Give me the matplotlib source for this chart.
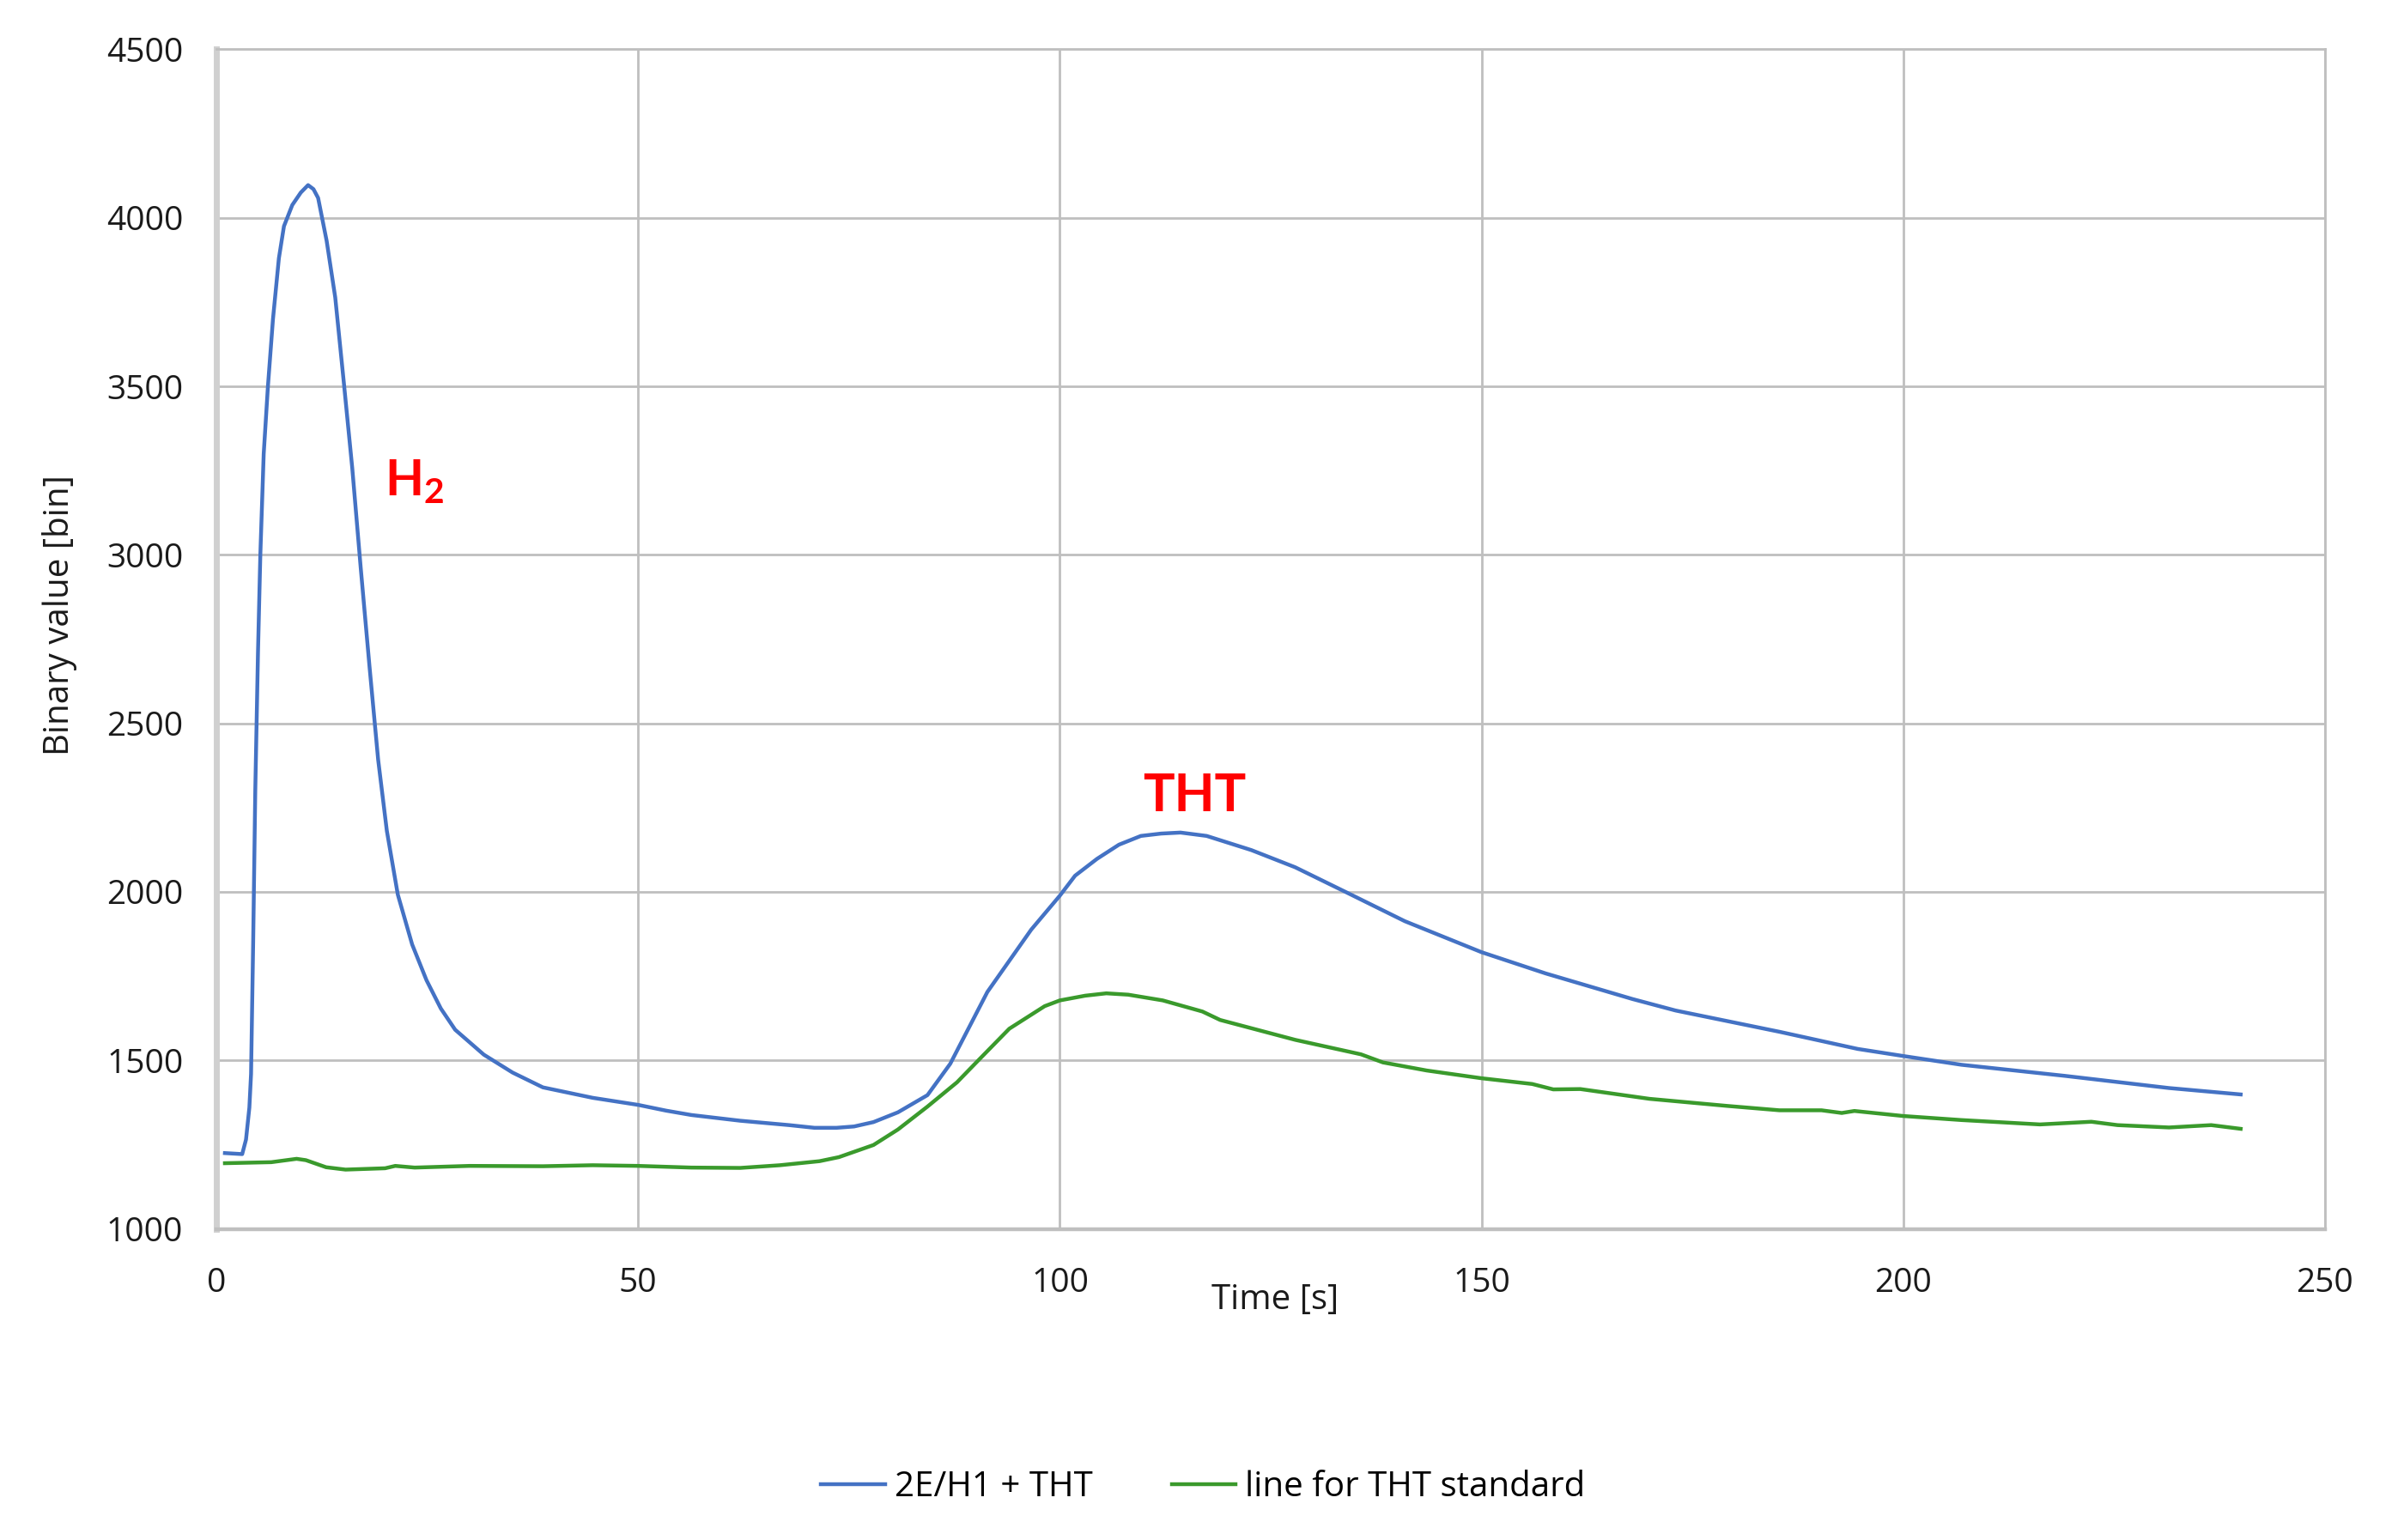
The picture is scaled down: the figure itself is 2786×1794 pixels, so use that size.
import matplotlib
matplotlib.use('Agg')
import matplotlib.pyplot as plt
import numpy as np

plt.rcParams['font.family'] = ['Open Sans', 'DejaVu Sans']
plt.rcParams['mathtext.fontset'] = 'custom'
plt.rcParams['mathtext.bf'] = 'Lato:bold'
plt.rcParams['mathtext.rm'] = 'Lato'

# values
t_sample = [1, 3.05, 3.5, 3.9, 4.1, 4.35, 4.6, 4.92, 5.2, 5.6, 6.1, 6.7, 7.4, 8.0,
            8.99, 10.0, 10.86, 11.5, 12.05, 13.06, 14.08, 15.1, 16.1, 17.1, 18.15,
            19.17, 20.2, 21.5, 23.2, 24.9, 26.6, 28.3, 31.7, 35.1, 38.7, 44.6, 50,
            53.3, 56.3, 62.1, 67.9, 70.9, 73.5, 75.6, 77.9, 80.8, 84.3, 87, 91.4,
            96.6, 100, 101.8, 104.4, 107, 109.6, 112, 114.3, 117.4, 122.7, 127.9,
            134.1, 140.9, 150, 157.6, 167.9, 173, 185.3, 194.6, 200, 206.9, 219.2,
            231.5, 240]
bin_sample = [1225, 1222, 1265, 1360, 1460, 1850, 2300, 2709, 3000, 3300, 3500, 3700,
              3880, 3975, 4038, 4075, 4097, 4085, 4059, 3932, 3764, 3511, 3257, 2962,
              2667, 2392, 2181, 1992, 1844, 1738, 1654, 1591, 1517, 1464, 1420, 1389,
              1368, 1351, 1338, 1321, 1308, 1300, 1300, 1304, 1317, 1346, 1397, 1490,
              1703, 1888, 1989, 2048, 2098, 2140, 2166, 2173, 2176, 2166, 2124, 2073,
              1997, 1913, 1821, 1758, 1682, 1648, 1585, 1534, 1513, 1487, 1454,
              1418, 1399]

t_std = [1, 6.5, 9.5, 10.6, 13, 15.3, 20, 21.2, 23.5, 30, 38.7, 44.6, 50, 56.3, 62.1,
         66.8, 71.5, 73.8, 77.9, 80.8, 84.3, 87.8, 90.4, 94, 98.2, 100, 103, 105.5,
         108.1, 112.2, 116.9, 119, 127.9, 135.7, 138.3, 143.5, 150, 156, 158.5, 161.7,
         169.9, 179.1, 185.3, 190.3, 192.7, 194.2, 200, 206.9, 216.2, 222.3, 225.4,
         231.5, 236.5, 240]
bin_std = [1195, 1198, 1208, 1204, 1183, 1176, 1180, 1187, 1182, 1187, 1186, 1189,
           1187, 1182, 1181, 1189, 1201, 1213, 1249, 1295, 1363, 1435, 1502, 1594,
           1661, 1678, 1692, 1699, 1695, 1678, 1645, 1620, 1561, 1518, 1494, 1470,
           1447, 1430, 1414, 1415, 1386, 1365, 1352, 1352, 1344, 1350, 1335, 1323,
           1310, 1318, 1308, 1301, 1308, 1297]

fig = plt.figure(figsize=(13.93, 8.97), dpi=200)
ax = fig.add_axes([0.0905, 0.202, 0.8815, 0.766])

ax.plot(t_sample, bin_sample, color='#4472C4', lw=1.6, label='2E/H1 + THT')
ax.plot(t_std, bin_std, color='#3A9A2C', lw=1.6, label='line for THT standard')

ax.set_xlim(0, 250)
ax.set_ylim(1000, 4500)
ax.set_xticks(np.arange(0, 251, 50))
ax.set_yticks(np.arange(1000, 4501, 500))
ax.grid(True, color='#BFBFBF', lw=1.0)
ax.set_axisbelow(True)
ax.tick_params(length=0, labelsize=14, colors='#1a1a1a')
ax.tick_params(axis='x', pad=16)
ax.tick_params(axis='y', pad=14)
for s in ax.spines.values():
    s.set_color('#BFBFBF')
    s.set_linewidth(1.0)
ax.spines['left'].set_color('#D0D0D0')
ax.spines['left'].set_linewidth(2.5)
ax.spines['bottom'].set_linewidth(1.6)

ax.set_xlabel('Time [s]', fontsize=14.5, color='#1a1a1a')
ax.xaxis.set_label_coords(0.502, -0.046)
ax.set_ylabel('Binary value [bin]', fontsize=14.5, color='#1a1a1a')
ax.yaxis.set_label_coords(-0.066, 0.52)

ax.text(23.5, 3215, r'$\mathbf{H_2}$', color='#FF0000', fontsize=21,
        ha='center', va='center')
ax.text(116, 2285, 'THT', color='#FF0000', fontsize=22, fontweight='bold',
        family='Lato', ha='center', va='center')

fig.legend(loc='center', bbox_to_anchor=(0.503, 0.034), ncol=2, frameon=False,
           fontsize=14.5, handlelength=1.85, columnspacing=2.3, handletextpad=0.27)

fig.savefig('out.png', dpi=200)
